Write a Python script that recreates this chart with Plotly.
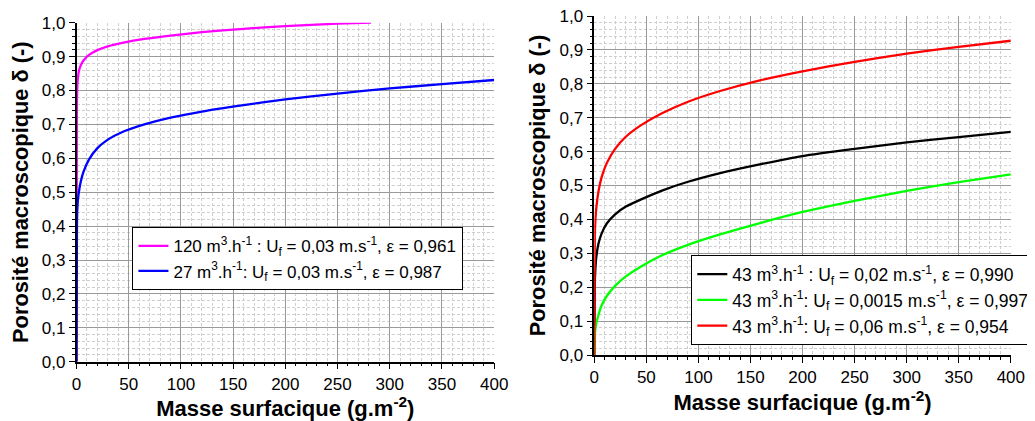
import plotly.graph_objects as go

# ---------------- data ----------------
# Left panel
mag_x = [0, 0.3, 1, 2, 4, 7, 12, 20, 30, 45, 65, 90, 120, 160, 200, 250, 282]
mag_y = [0.0, 0.75, 0.825, 0.853, 0.874, 0.890, 0.905, 0.919, 0.930, 0.941, 0.952, 0.962, 0.972, 0.982, 0.990, 0.997, 1.0]
mag_name = "120 m<sup>3</sup>.h<sup>-1</sup> : U<sub>f</sub> = 0,03 m.s<sup>-1</sup>, ε = 0,961"

blue_x = [0, 0.4, 1, 2, 4, 7, 12, 20, 30, 45, 65, 90, 120, 160, 200, 250, 300, 350, 400]
blue_y = [0.0, 0.40, 0.465, 0.495, 0.531, 0.563, 0.597, 0.630, 0.655, 0.679, 0.700, 0.720, 0.738, 0.757, 0.774, 0.791, 0.806, 0.819, 0.831]
blue_name = "27 m<sup>3</sup>.h<sup>-1</sup>: U<sub>f</sub> = 0,03 m.s<sup>-1</sup>, ε = 0,987"

# Right panel
blk_x = [0, 0.5, 1, 2, 4, 7, 12, 20, 30, 45, 65, 90, 120, 160, 200, 250, 300, 350, 400]
blk_y = [0.0, 0.21, 0.25, 0.29, 0.328, 0.358, 0.388, 0.415, 0.437, 0.459, 0.485, 0.511, 0.536, 0.563, 0.587, 0.608, 0.627, 0.643, 0.658]
blk_name = "43 m<sup>3</sup>.h<sup>-1</sup> : U<sub>f</sub> = 0,02 m.s<sup>-1</sup>, ε = 0,990"

grn_x = [0, 0.5, 1, 2, 4, 7, 12, 20, 30, 45, 65, 90, 120, 160, 200, 250, 300, 350, 400]
grn_y = [0.0, 0.058, 0.075, 0.094, 0.118, 0.146, 0.174, 0.204, 0.231, 0.261, 0.294, 0.325, 0.355, 0.390, 0.422, 0.455, 0.484, 0.510, 0.533]
grn_name = "43 m<sup>3</sup>.h<sup>-1</sup>: U<sub>f</sub> = 0,0015 m.s<sup>-1</sup>, ε = 0,997"

red_x = [0, 0.5, 1, 2, 4, 7, 12, 20, 30, 45, 65, 90, 120, 160, 200, 250, 300, 350, 400]
red_y = [0.0, 0.353, 0.392, 0.435, 0.482, 0.524, 0.566, 0.608, 0.643, 0.678, 0.713, 0.747, 0.778, 0.811, 0.837, 0.865, 0.889, 0.909, 0.927]
red_name = "43 m<sup>3</sup>.h<sup>-1</sup>: U<sub>f</sub> = 0,06 m.s<sup>-1</sup>, ε = 0,954"

x_ticks = [0, 50, 100, 150, 200, 250, 300, 350, 400]
y_ticks = [0.0, 0.1, 0.2, 0.3, 0.4, 0.5, 0.6, 0.7, 0.8, 0.9, 1.0]

x_title = "Masse surfacique (g.m<sup>-2</sup>)"
y_title = "Porosité macroscopique δ (-)"

# ---------------- figure ----------------
# the page body has an 8px margin, so the figure starts at (8, 8) in the window
OFF = 8
W, H = 1035 - OFF, 421 - OFF
FONT = "Arial, Liberation Sans, sans-serif"

def px_x(p):
    return (p - OFF) / W

def px_y(p):
    return 1 - (p - OFF) / H

fig = go.Figure()

def add(x, y, name, color, xa, ya, leg):
    fig.add_trace(go.Scatter(x=x, y=y, name=name, mode="lines",
                             line=dict(color=color, width=2.3, shape="spline", smoothing=0.5),
                             xaxis=xa, yaxis=ya, legend=leg))

add(mag_x, mag_y, mag_name, "#FF00FF", "x", "y", "legend")
add(blue_x, blue_y, blue_name, "#0000FF", "x", "y", "legend")
add(blk_x, blk_y, blk_name, "#000000", "x2", "y2", "legend2")
add(grn_x, grn_y, grn_name, "#00FF00", "x2", "y2", "legend2")
add(red_x, red_y, red_name, "#FF0000", "x2", "y2", "legend2")

MINOR_GRID = dict(showgrid=True, gridcolor="#cfcfcf", griddash="3px,2px", gridwidth=1)

def xaxis(dom, anchor):
    return dict(domain=dom, anchor=anchor, range=[0, 400], tickvals=x_ticks,
                ticks="outside", ticklen=6, tickwidth=1.3, tickcolor="black",
                showline=True, linecolor="black", linewidth=1.5,
                showgrid=True, gridcolor="#9a9a9a", gridwidth=1,
                zeroline=False, automargin=False, ticklabeloverflow="allow",
                tickfont=dict(family=FONT, size=17, color="black"),
                minor=dict(dtick=10, ticks="outside", ticklen=3, tickcolor="black", tickwidth=1,
                           **MINOR_GRID),
                title=dict(text=x_title, standoff=2,
                           font=dict(family=FONT, size=22, color="black", weight="bold")))

def yaxis(dom, anchor):
    return dict(domain=dom, anchor=anchor, range=[0, 1.0], tickvals=y_ticks, tickformat=".1f",
                ticks="outside", ticklen=6, tickwidth=1.3, tickcolor="black",
                showline=True, linecolor="black", linewidth=1.5,
                showgrid=True, gridcolor="#9a9a9a", gridwidth=1,
                zeroline=False, automargin=False, ticklabeloverflow="allow",
                tickfont=dict(family=FONT, size=17, color="black"),
                minor=dict(dtick=0.02, ticks="outside", ticklen=3, tickcolor="black", tickwidth=1,
                           **MINOR_GRID),
                title=dict(text=y_title, standoff=8,
                           font=dict(family=FONT, size=21.8, color="black", weight="bold")))

L_x = [px_x(77), px_x(497.5)]
L_y = [px_y(361.7), px_y(22.7)]
R_x = [px_x(598.3), px_x(1017.7)]
R_y = [px_y(355), px_y(16)]

fig.update_layout(
    width=W, height=H,
    margin=dict(l=0, r=0, t=0, b=0),
    paper_bgcolor="white", plot_bgcolor="white",
    separators=", ",
    xaxis=xaxis(L_x, "y"), yaxis=yaxis(L_y, "x"),
    xaxis2=xaxis(R_x, "y2"), yaxis2=yaxis(R_y, "x2"),
    legend=dict(x=px_x(133), y=px_y(227), xanchor="left", yanchor="top",
                bgcolor="white", bordercolor="black", borderwidth=1.3,
                font=dict(family=FONT, size=17, color="black"), tracegroupgap=0),
    legend2=dict(x=px_x(695.7), y=px_y(255), xanchor="left", yanchor="top",
                 bgcolor="white", bordercolor="black", borderwidth=1.3,
                 font=dict(family=FONT, size=17.5, color="black"), tracegroupgap=0),
    showlegend=True,
)

fig.write_html("out.html")
